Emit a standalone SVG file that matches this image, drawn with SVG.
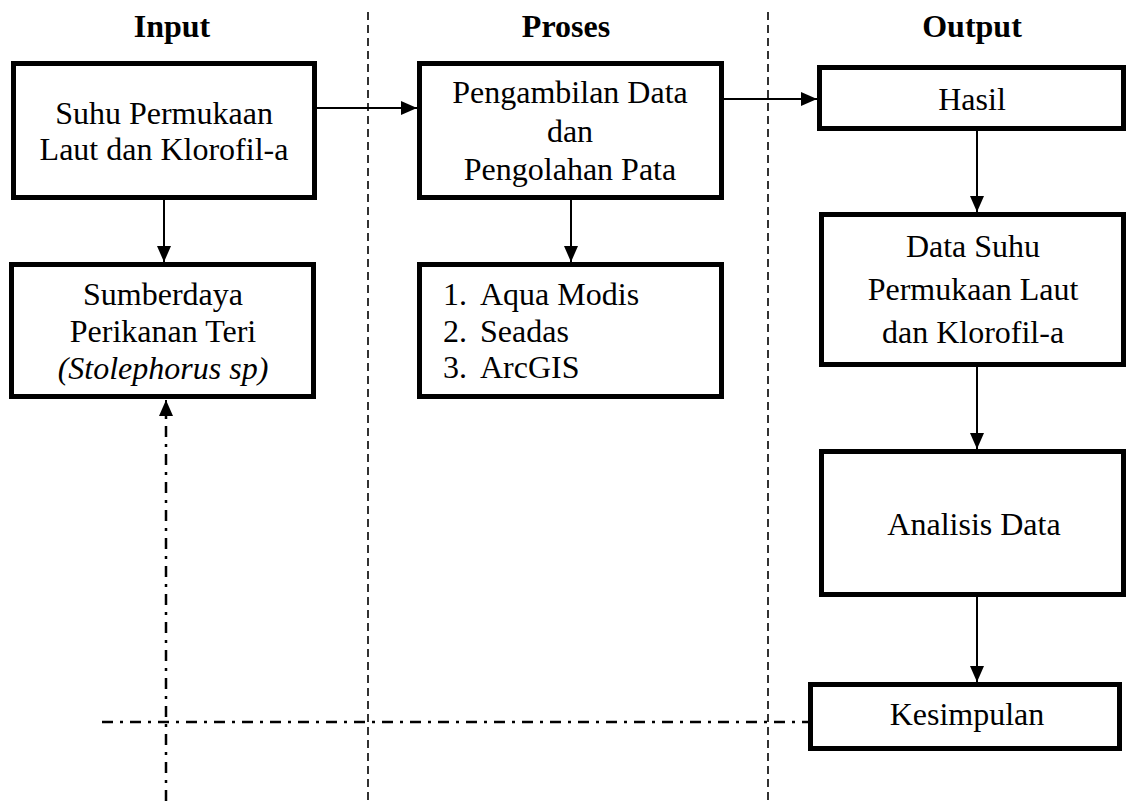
<svg xmlns="http://www.w3.org/2000/svg" width="1128" height="801" viewBox="0 0 1128 801">
<style>
.box{fill:#fff;stroke:#000;stroke-width:5}
.t{font-family:"Liberation Serif","Times New Roman",serif;font-size:32px;fill:#000;text-anchor:middle}
.tl{font-family:"Liberation Serif","Times New Roman",serif;font-size:32px;fill:#000;text-anchor:start}
.h{font-family:"Liberation Serif","Times New Roman",serif;font-size:32px;font-weight:bold;fill:#000;text-anchor:middle}
.c{stroke:#000;stroke-width:2;fill:none}
.sep{stroke:#000;stroke-width:1.6;stroke-dasharray:8 5;fill:none}
.dd{stroke:#000;stroke-width:2.5;stroke-dasharray:11 7 3 7;fill:none}
</style>
<defs>
<marker id="ah" markerUnits="userSpaceOnUse" markerWidth="18" markerHeight="16" refX="16" refY="7" orient="auto">
<path d="M0,0 L16,7 L0,14 Z" fill="#000"/>
</marker>
</defs>
<rect width="1128" height="801" fill="#fff"/>
<g id="separators">
<line class="sep" x1="368" y1="12" x2="368" y2="801"/>
<line class="sep" x1="768" y1="12" x2="768" y2="801"/>
</g>
<g id="headers">
<text class="h" x="172" y="37">Input</text>
<text class="h" x="566" y="37">Proses</text>
<text class="h" x="972" y="37">Output</text>
</g>
<g id="connectors">
<line class="c" x1="317" y1="108" x2="417" y2="108" marker-end="url(#ah)"/>
<line class="c" x1="724" y1="99" x2="817" y2="99" marker-end="url(#ah)"/>
<line class="c" x1="164" y1="200" x2="164" y2="262" marker-end="url(#ah)"/>
<line class="c" x1="571" y1="200" x2="571" y2="262" marker-end="url(#ah)"/>
<line class="c" x1="977" y1="131" x2="977" y2="212" marker-end="url(#ah)"/>
<line class="c" x1="977" y1="367" x2="977" y2="449" marker-end="url(#ah)"/>
<line class="c" x1="977" y1="597" x2="977" y2="682" marker-end="url(#ah)"/>
<line class="dd" x1="166" y1="801" x2="166" y2="412"/>
<line class="c" x1="166" y1="414" x2="166" y2="400" marker-end="url(#ah)"/>
<line class="dd" x1="102" y1="722" x2="808" y2="722"/>
</g>
<g id="suhu">
<rect class="box" x="13.5" y="63.5" width="301" height="134"/>
<text class="t" x="164" y="124">Suhu Permukaan</text>
<text class="t" x="164" y="160">Laut dan Klorofil-a</text>
</g>
<g id="sumberdaya">
<rect class="box" x="11.5" y="264.5" width="302" height="132"/>
<text class="t" x="163" y="305">Sumberdaya</text>
<text class="t" x="163" y="342">Perikanan Teri</text>
<text class="t" x="163" y="379" font-style="italic">(Stolephorus sp)</text>
</g>
<g id="pengambilan">
<rect class="box" x="419.5" y="63.5" width="302" height="134"/>
<text class="t" x="570" y="103">Pengambilan Data</text>
<text class="t" x="570" y="142">dan</text>
<text class="t" x="570" y="180">Pengolahan Pata</text>
</g>
<g id="tools">
<rect class="box" x="419.5" y="264.5" width="302" height="132"/>
<text class="tl" x="443" y="305">1.</text>
<text class="tl" x="480" y="305">Aqua Modis</text>
<text class="tl" x="443" y="342">2.</text>
<text class="tl" x="480" y="342">Seadas</text>
<text class="tl" x="443" y="378">3.</text>
<text class="tl" x="480" y="378">ArcGIS</text>
</g>
<g id="hasil">
<rect class="box" x="819.5" y="67.5" width="304" height="61"/>
<text class="t" x="972" y="110">Hasil</text>
</g>
<g id="datasuhu">
<rect class="box" x="821.5" y="214.5" width="302" height="150"/>
<text class="t" x="973" y="257">Data Suhu</text>
<text class="t" x="973" y="300">Permukaan Laut</text>
<text class="t" x="973" y="343">dan Klorofil-a</text>
</g>
<g id="analisis">
<rect class="box" x="821.5" y="451.5" width="302" height="143"/>
<text class="t" x="974" y="535">Analisis Data</text>
</g>
<g id="kesimpulan">
<rect class="box" x="810.5" y="684.5" width="309" height="64"/>
<text class="t" x="967" y="725">Kesimpulan</text>
</g>
</svg>
